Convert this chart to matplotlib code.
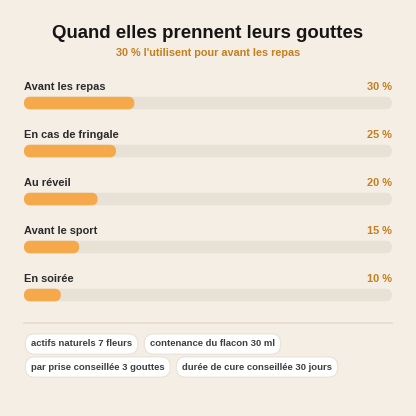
import matplotlib
matplotlib.use("Agg")
import matplotlib.pyplot as plt
from matplotlib.patches import FancyBboxPatch

categories = ["Avant les repas", "En cas de fringale", "Au réveil", "Avant le sport", "En soirée"]
values = [30, 25, 20, 15, 10]
value_labels = ["30 %", "25 %", "20 %", "15 %", "10 %"]
title = "Quand elles prennent leurs gouttes"
subtitle = "30 % l'utilisent pour avant les repas"
chips_row1 = ["actifs naturels 7 fleurs", "contenance du flacon 30 ml"]
chips_row2 = ["par prise conseillée 3 gouttes", "durée de cure conseillée 30 jours"]

BG = "#f5eee5"
BAR = "#f5a94a"
TRACK = "#e8e1d6"
ACCENT = "#c47f1f"
DARK = "#2a2a2a"

W = H = 416
DPI = 100
plt.rcParams['font.family'] = ['Liberation Sans', 'DejaVu Sans']
fig = plt.figure(figsize=(W / DPI, H / DPI), dpi=DPI)
fig.patch.set_facecolor(BG)

# bar axes: x from px 24 to 392, full height
ax = fig.add_axes([24 / W, 0, 368 / W, 1])
ax.set_xlim(0, 100)
row_px0, row_step = 103, 48
ax.set_ylim((H - row_px0) / row_step, -row_px0 / row_step)
ax.axis("off")
ax.patch.set_alpha(0)

bar_h_px = 12.5
x_unit = 368 / 100
bh = bar_h_px / row_step
rs = (bar_h_px / 2) / x_unit
aspect = x_unit / row_step
for i, (cat, v, vl) in enumerate(zip(categories, values, value_labels)):
    ax.add_patch(FancyBboxPatch((0, i - bh / 2), 100, bh,
                                boxstyle=f"round,pad=0,rounding_size={rs}",
                                mutation_aspect=aspect, fc=TRACK, ec="none"))
    ax.add_patch(FancyBboxPatch((0, i - bh / 2), v, bh,
                                boxstyle=f"round,pad=0,rounding_size={rs}",
                                mutation_aspect=aspect, fc=BAR, ec="none"))
    ax.text(0, i - 16 / row_step, cat, ha="left", va="center",
            fontsize=7.9, fontweight="bold", color=DARK)
    ax.text(100, i - 16 / row_step, vl, ha="right", va="center",
            fontsize=7.9, fontweight="bold", color=ACCENT)

fig.text(0.5, 1 - 33 / H, title, ha="center", va="center",
         fontsize=13.4, fontweight="bold", color="#151515")
fig.text(0.5, 1 - 53 / H, subtitle, ha="center", va="center",
         fontsize=7.8, fontweight="bold", color=ACCENT)

# separator
fig.add_artist(plt.Line2D([24 / W, 392 / W], [1 - 322.5 / H] * 2,
                          color="#e6dccd", lw=1.2, transform=fig.transFigure))

def chips(labels, xs, y):
    for lab, x in zip(labels, xs):
        fig.text(x / W, 1 - y / H, lab, ha="left", va="center",
                 fontsize=6.8, fontweight="bold", color="#3e3e3e",
                 bbox=dict(boxstyle="round,pad=0.6,rounding_size=1.0",
                           fc="white", ec="#e9e2d8", lw=0.8))

chips(chips_row1, [31, 150], 344)
chips(chips_row2, [31, 182], 367)

fig.savefig("out.png", dpi=DPI, facecolor=BG)
